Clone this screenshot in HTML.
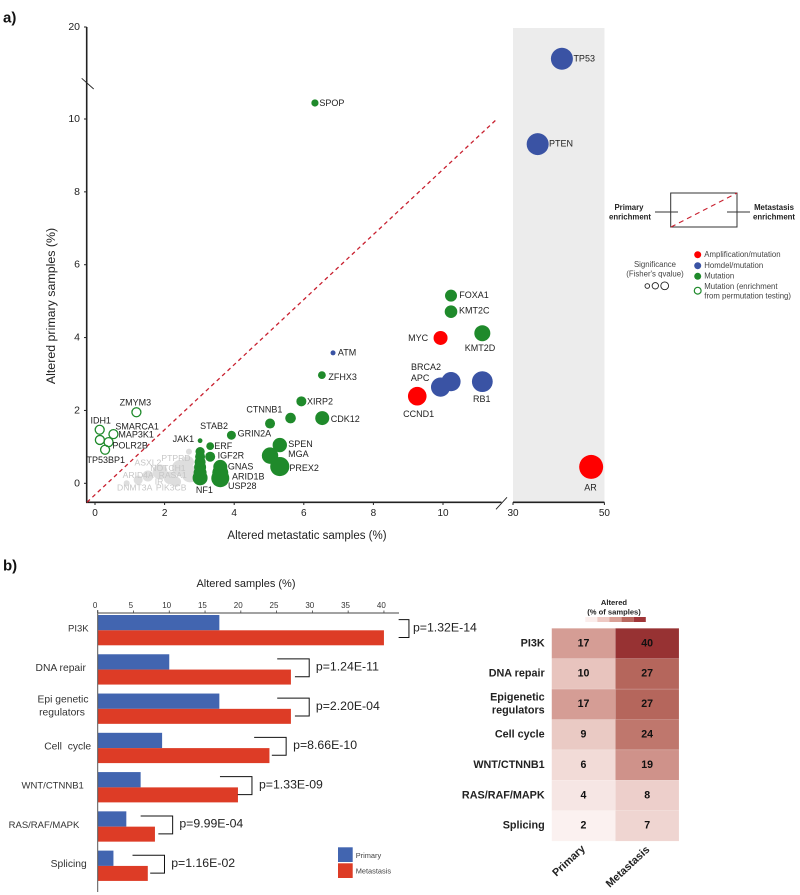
<!DOCTYPE html>
<html>
<head>
<meta charset="utf-8">
<title>Primary vs metastatic alteration enrichment</title>
<style>
html,body{margin:0;padding:0;background:#fff;}
svg{display:block;font-family:"Liberation Sans",sans-serif;}
text{dominant-baseline:central;white-space:pre;}
</style>
</head>
<body>
<svg id="fig" width="800" height="895" viewBox="0 0 800 895" xmlns="http://www.w3.org/2000/svg">
  <text x="3" y="18" font-size="15" font-weight="bold" fill="#111">a)</text>
  <text x="3" y="566" font-size="15" font-weight="bold" fill="#111">b)</text>
  <rect x="513" y="28" width="91.5" height="474" fill="#ececec"/>
  <g id="scatter"></g>
  <text x="307" y="536" font-size="11.5" text-anchor="middle" fill="#222">Altered metastatic samples (%)</text>
  <text transform="translate(51,306) rotate(-90)" font-size="12.4" text-anchor="middle" fill="#222">Altered primary samples (%)</text>

  <g>
    <rect x="670.7" y="193" width="66.3" height="34" fill="none" stroke="#333" stroke-width="1"/>
    <line x1="671" y1="227" x2="737" y2="193" stroke="#c8202f" stroke-width="1.1" stroke-dasharray="5 4"/>
    <line x1="655" y1="212" x2="678" y2="212" stroke="#333" stroke-width="1"/>
    <line x1="727" y1="212" x2="750" y2="212" stroke="#333" stroke-width="1"/>
    <text font-size="7.8" font-weight="bold" fill="#222" text-anchor="middle"><tspan x="629" y="207">Primary</tspan><tspan x="630" y="216.5">enrichment</tspan></text>
    <text font-size="7.8" font-weight="bold" fill="#222" text-anchor="middle"><tspan x="774" y="207">Metastasis</tspan><tspan x="774" y="216.5">enrichment</tspan></text>
  </g>
  <g font-size="7.8" fill="#444">
    <text text-anchor="middle"><tspan x="655" y="264">Significance</tspan><tspan x="655" y="273.5">(Fisher's qvalue)</tspan></text>
    <circle cx="647.3" cy="286" r="2.3" fill="none" stroke="#222" stroke-width="0.9"/>
    <circle cx="655.3" cy="285.8" r="3.2" fill="none" stroke="#222" stroke-width="0.9"/>
    <circle cx="664.7" cy="285.8" r="3.9" fill="none" stroke="#222" stroke-width="0.9"/>
    <circle cx="697.7" cy="254.7" r="3.5" fill="#ff0000"/>
    <text x="704.3" y="254.3">Amplification/mutation</text>
    <circle cx="697.7" cy="265.7" r="3.5" fill="#3a53a4"/>
    <text x="704.3" y="265.3">Homdel/mutation</text>
    <circle cx="697.7" cy="276.3" r="3.5" fill="#1f8a2b"/>
    <text x="704.3" y="276">Mutation</text>
    <circle cx="697.7" cy="290.7" r="3.4" fill="none" stroke="#1f8a2b" stroke-width="1.2"/>
    <text><tspan x="704.3" y="286">Mutation (enrichment</tspan><tspan x="704.3" y="295.3">from permutation testing)</tspan></text>
  </g>

  <text x="246" y="584" font-size="11" text-anchor="middle" fill="#222">Altered samples (%)</text>
  <g id="bars"></g>
  <rect x="338" y="847.3" width="14.7" height="14.7" fill="#4265b0"/>
  <text x="355.7" y="855.3" font-size="7.4" fill="#444">Primary</text>
  <rect x="338" y="863.3" width="14.7" height="14.7" fill="#dd3c26"/>
  <text x="355.7" y="871" font-size="7.4" fill="#444">Metastasis</text>

  <g id="heat"></g>
  <text font-size="7.6" font-weight="bold" fill="#222" text-anchor="middle"><tspan x="614" y="602">Altered</tspan><tspan x="614" y="611.5">(% of samples)</tspan></text>
  <g>
    <rect x="585.3" y="617" width="12.1" height="5" fill="#fbeeec"/>
    <rect x="597.4" y="617" width="12.1" height="5" fill="#eec9c3"/>
    <rect x="609.5" y="617" width="12.1" height="5" fill="#d9a096"/>
    <rect x="621.6" y="617" width="12.1" height="5" fill="#b9685f"/>
    <rect x="633.7" y="617" width="12.1" height="5" fill="#a03538"/>
  </g>
  <text transform="translate(569,861) rotate(-43)" font-size="10.8" font-weight="bold" text-anchor="middle" fill="#222">Primary</text>
  <text transform="translate(628,867) rotate(-43)" font-size="10.8" font-weight="bold" text-anchor="middle" fill="#222">Metastasis</text>
</svg>

<script>
// ---------- Scatter data ----------
const geneNames = ["DNMT3A","ARID4A","ASXL2","IR","PIK3CB","NOTCH1","RASA1","","PTPRD","",
  "ZMYM3","IDH1","SMARCA1","MAP3K1","POLR2B","TP53BP1",
  "JAK1","GRIN2A","ERF","IGF2R","GNAS","ARID1B","USP28","NF1","STAB2","","","","",
  "SPEN","MGA","PREX2","CTNNB1","","XIRP2","CDK12","ZFHX3","ATM","SPOP",
  "FOXA1","KMT2C","KMT2D","MYC","BRCA2","APC","RB1","CCND1","AR","TP53","PTEN"];
const metastaticPct = [0.91,1.24,1.52,1.87,2.16,2.44,2.73,2.67,2.70,2.33,
  1.19,0.135,0.53,0.39,0.14,0.29,
  3.02,3.92,3.31,3.31,3.60,3.60,3.60,3.02,3.02,3.02,3.02,3.02,3.02,
  5.31,5.03,5.31,5.03,5.62,5.93,6.53,6.52,6.84,6.32,
  10.23,10.23,11.13,9.93,10.23,9.93,11.13,9.26,47.1,40.7,35.4];
const primaryPct = [0,0.09,0.2,0.31,0.15,0.42,0.26,0.58,0.87,0.04,
  1.95,1.47,1.35,1.13,1.19,0.92,
  1.17,1.32,1.02,0.73,0.45,0.29,0.14,0.15,0.87,0.73,0.58,0.44,0.29,
  1.05,0.76,0.46,1.64,1.79,2.25,1.79,2.97,3.58,10.44,
  5.15,4.71,4.12,3.99,2.79,2.64,2.79,2.39,0.45,16.55,9.31];
const significance = [3,4.5,5.5,7.5,6.5,8,8.5,6,3,5,
  4.5,4.5,4.5,4.5,4.5,4.5,
  2.4,4.5,3.9,5,7,8,9,7.5,4.6,5,5.5,6,6.5,
  7.2,8.2,9.6,5,5.3,5,7,3.9,2.5,3.6,
  6,6.3,8,7,9.6,9.6,10.4,9.3,12,11,11];
const alterationType = ["n","n","n","n","n","n","n","n","n","n",
  "p","p","p","p","p","p",
  "m","m","m","m","m","m","m","m","m","m","m","m","m",
  "m","m","m","m","m","m","m","m","h","m",
  "m","m","m","a","h","h","h","a","a","h","h"];
const yTickValues = [0,2,4,6,8,10,20];
const xTickValuesLeft = [0,2,4,6,8,10];
const xTickValuesRight = [30,50];
const refLineMet = [-0.23,11.55];
const refLinePri = [-0.52,10];

// ---------- Bar data ----------
const pathways = ["PI3K","DNA repair","Epi genetic|regulators","Cell  cycle","WNT/CTNNB1","RAS/RAF/MAPK","Splicing"];
const primaryBars = [17,10,17,9,6,4,2.2];
const metastasisBars = [40,27,27,24,19.6,8,7];
const pValues = ["p=1.32E-14","p=1.24E-11","p=2.20E-04","p=8.66E-10","p=1.33E-09","p=9.99E-04","p=1.16E-02"];
const barTicks = [0,5,10,15,20,25,30,35,40];

// ---------- Heatmap data ----------
const heatRows = ["PI3K","DNA repair","Epigenetic|regulators","Cell cycle","WNT/CTNNB1","RAS/RAF/MAPK","Splicing"];
const heatPrimary = [17,10,17,9,6,4,2];
const heatMetastasis = [40,27,27,24,19,8,7];

const NS = "http://www.w3.org/2000/svg";
function el(tag, attrs, parent, txt){
  const e = document.createElementNS(NS, tag);
  for (const k in attrs) e.setAttribute(k, attrs[k]);
  if (txt !== undefined) e.textContent = txt;
  parent.appendChild(e);
  return e;
}

// ---------- Scatter ----------
function xScale(v){ return v <= 15 ? 95 + 34.8 * v : 513 + (v - 30) * 4.57; }
function yScale(v){ return v <= 12 ? 483.3 - 36.43 * v : 119 - (v - 10) * 9.2; }

(function drawScatter(){
  const g = document.getElementById("scatter");
  const typeColor = {a:"#ff0000", h:"#3a53a4", m:"#1f8a2b", p:"#1f8a2b", n:"#dedede"};
  const labelOffset = {
    DNMT3A:[8,4.4],ARID4A:[0,-5],ASXL2:[0,-13.3],IR:[-1,9.7],PIK3CB:[1,9.7],NOTCH1:[-12,0],RASA1:[-17.3,1],PTPRD:[-13,6.6],
    ZMYM3:[-1,-9.6],IDH1:[1,-9.4],SMARCA1:[23.7,-7.7],MAP3K1:[27.6,-7.7],POLR2B:[30.3,5.7],TP53BP1:[0.7,10.3],
    JAK1:[-16.7,-1.7],GRIN2A:[23,-1.6],ERF:[13,0],IGF2R:[20.7,-1.4],GNAS:[20.3,-0.3],ARID1B:[28,4],USP28:[22,8],NF1:[4.3,12.3],STAB2:[14,-25.4],
    SPEN:[20.7,-1],MGA:[28.3,-1.4],PREX2:[24.4,1.6],CTNNB1:[-5.7,-14],XIRP2:[18.7,0],CDK12:[23,0.7],ZFHX3:[20.7,1.7],ATM:[14,-0.3],SPOP:[17,0],
    FOXA1:[23,-0.7],KMT2C:[23.3,-1],KMT2D:[-2.3,15],MYC:[-22.4,0.3],BRCA2:[-25,-14.7],APC:[-20.4,-9.3],RB1:[-0.6,17.3],CCND1:[1.4,17.7],AR:[-0.7,20.7],TP53:[22.3,0],PTEN:[23.3,-0.7]
  };

  // axes
  const yAxis = el("line",{x1:86.7,y1:yScale(20),x2:86.7,y2:502.3,stroke:"#222","stroke-width":1.6},g);
  
  
  const xAxisLeft = el("line",{x1:86,y1:502.3,x2:501.5,y2:502.3,stroke:"#222","stroke-width":1.6},g);
  
  
  const xAxisRight = el("line",{x1:xScale(30),y1:502.3,x2:xScale(50),y2:502.3,stroke:"#222","stroke-width":1.6},g);
  
  
  const yBreak = el("line",{x1:81.7,y1:78.3,x2:93.7,y2:89,stroke:"#222","stroke-width":0.9},g);
  
  
  const xBreak = el("line",{x1:496,y1:509.3,x2:507,y2:497.3,stroke:"#222","stroke-width":0.9},g);
  
  

  yTickValues.forEach(function(v){
    const t = el("line",{x1:84,y1:yScale(v),x2:86.7,y2:yScale(v),stroke:"#222","stroke-width":1},g);
    
    
    const l = el("text",{x:80,y:yScale(v),"font-size":10.5,"text-anchor":"end",fill:"#222"},g,String(v));
    
    
  });
  xTickValuesLeft.concat(xTickValuesRight).forEach(function(v){
    const t = el("line",{x1:xScale(v),y1:502.3,x2:xScale(v),y2:505,stroke:"#222","stroke-width":1},g);
    
    
    const l = el("text",{x:xScale(v),y:513.5,"font-size":10,"text-anchor":"middle",fill:"#222"},g,String(v));
    
    
  });

  // reference line
  const ref = el("line",{x1:xScale(refLineMet[0]),y1:yScale(refLinePri[0]),x2:xScale(refLineMet[1]),y2:yScale(refLinePri[1]),
    stroke:"#c8202f","stroke-width":1.3,"stroke-dasharray":"4 3.4"},g);
  
  

  // points
  geneNames.forEach(function(name,i){
    const hollow = alterationType[i] === "p";
    const c = el("circle",{cx:xScale(metastaticPct[i]),cy:yScale(primaryPct[i]),r:significance[i],
      fill:hollow?"none":typeColor[alterationType[i]],
      stroke:hollow?typeColor.p:"none","stroke-width":hollow?1.3:0},g);
    
    
  });
  // labels
  geneNames.forEach(function(name,i){
    if(!name) return;
    const o = labelOffset[name] || [0,0];
    const grey = alterationType[i] === "n";
    const t = el("text",{x:xScale(metastaticPct[i])+o[0],y:yScale(primaryPct[i])+o[1],"font-size":grey?8.6:9,
      "text-anchor":"middle",fill:grey?"#c6c6c6":"#222"},g,name);
    
    
  });
})();

// ---------- Bars ----------
function barX(v){ return 97.7 + 7.156 * v; }
function rowTop(i){ return 615 + 39.27 * i; }

(function drawBars(){
  const g = document.getElementById("bars");
  const labelCenters = [78.3,60.7,63,67.7,52.7,44,68.7];
  const bracketPad = [25,18.3,18.3,16.7,14,17.7,16.7];
  const bracketTop = [32,32,32,32,32,32,32];
  const textGap = [4,6.7,6.7,7,7,6.7,6.7];

  primaryBars.forEach(function(v,i){
    const r = el("rect",{x:barX(0),y:rowTop(i),width:barX(v)-barX(0),height:15.3,fill:"#4265b0"},g);
    
    
  });
  metastasisBars.forEach(function(v,i){
    const r = el("rect",{x:barX(0),y:rowTop(i)+15.3,width:barX(v)-barX(0),height:15,fill:"#dd3c26"},g);
    
    
  });

  const topAxis = el("line",{x1:97.7,y1:613,x2:399,y2:613,stroke:"#444","stroke-width":1},g);
  
  
  const catAxis = el("line",{x1:97.7,y1:610,x2:97.7,y2:892,stroke:"#555","stroke-width":1},g);
  
  

  barTicks.forEach(function(v){
    const t = el("line",{x1:barX(v),y1:610.5,x2:barX(v),y2:613,stroke:"#444","stroke-width":0.8},g);
    
    
    const l = el("text",{x:barX(v)-2.6,y:605.3,"font-size":8,"text-anchor":"middle",fill:"#333"},g,String(v));
    
    
  });

  pathways.forEach(function(name,i){
    const lines = name.split("|");
    const fontSize = name === name.toUpperCase() ? 9.5 : 10.3;
    lines.forEach(function(line,j){
      const y = rowTop(i) + 14 + (lines.length>1 ? (j===0?-7.3:5.7) : 0);
      const t = el("text",{x:labelCenters[i]+(lines.length>1&&j===1?-1:0),y:y,"font-size":fontSize,"text-anchor":"middle",fill:"#333"},g,line);
      
      
    });

    const right = barX(metastasisBars[i]) + bracketPad[i];
    const top = rowTop(i) + 4.6, bottom = rowTop(i) + 22.5;
    const tw = i===0 ? 10.3 : bracketTop[i], bw = i===0 ? 10.3 : 14.3;
    const b = el("path",{d:"M"+(right-tw)+" "+top+"H"+right+"V"+bottom+"H"+(right-bw),fill:"none",stroke:"#111","stroke-width":1},g);
    
    
    const p = el("text",{x:right+textGap[i],y:rowTop(i)+12.3,"font-size":12.3,fill:"#222"},g,pValues[i]);
    
    
  });
})();

// ---------- Heatmap ----------
function heatColor(v){
  const stops = [[2,[251,241,240]],[10,[232,196,190]],[17,[213,157,149]],[27,[181,102,92]],[40,[151,50,51]]];
  if (v <= stops[0][0]) return "rgb("+stops[0][1].join(",")+")";
  for (let i=1;i<stops.length;i++){
    if (v <= stops[i][0]){
      const a = stops[i-1], b = stops[i], t = (v-a[0])/(b[0]-a[0]);
      return "rgb("+a[1].map(function(c,k){return Math.round(c+(b[1][k]-c)*t);}).join(",")+")";
    }
  }
  return "rgb("+stops[stops.length-1][1].join(",")+")";
}
function heatY(i){ return 628.3 + 30.4 * i; }
function heatX(c){ return 551.7 + 63.65 * c; }

(function drawHeat(){
  const g = document.getElementById("heat");
  [heatPrimary, heatMetastasis].forEach(function(col,c){
    col.forEach(function(v,i){
      const r = el("rect",{x:heatX(c),y:heatY(i),width:63.65,height:30.4,fill:heatColor(v),stroke:"#fff","stroke-opacity":0.25,"stroke-width":0.5},g);
      
      
      const t = el("text",{x:heatX(c)+31.8,y:heatY(i)+15,"font-size":10.6,"font-weight":"bold","text-anchor":"middle",fill:"#111"},g,String(v));
      
      
    });
  });
  heatRows.forEach(function(name,i){
    const lines = name.split("|");
    lines.forEach(function(line,j){
      const y = heatY(i) + 15 + (lines.length>1 ? (j===0?-6.7:6.3) : 0);
      const t = el("text",{x:544.7,y:y,"font-size":10.8,"font-weight":"bold","text-anchor":"end",fill:"#222"},g,line);
      
      
    });
  });
})();
</script>
</body>
</html>
